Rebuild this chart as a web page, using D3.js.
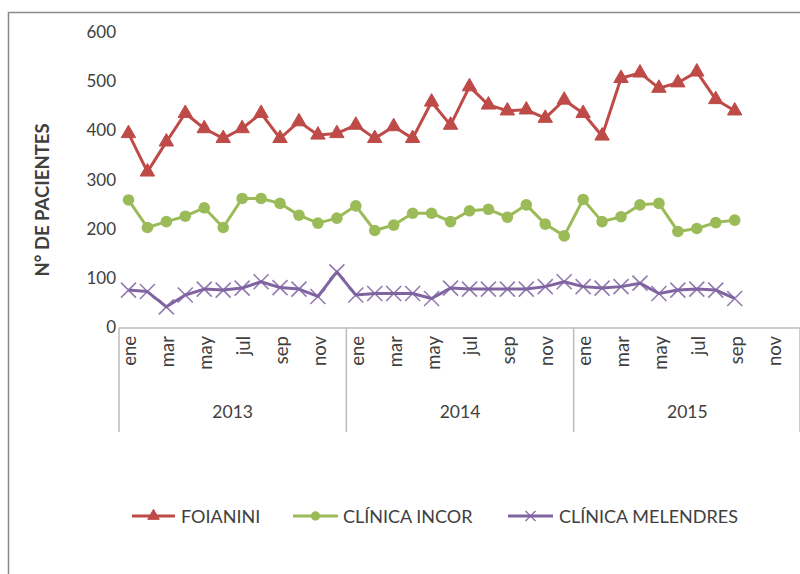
<!DOCTYPE html>
<html><head><meta charset="utf-8">
<script src="https://cdn.jsdelivr.net/npm/d3@7"></script>
<style>body{margin:0;background:#fff}svg{display:block}text{font-family:Lato,"Open Sans",sans-serif;fill:#404040}</style>
</head><body><svg id="c" width="800" height="574"></svg>
<script>
const years = ["2013","2014","2015"];
const months = ["ene","feb","mar","abr","may","jun","jul","ago","sep","oct","nov","dic"];
const monthLabelsShown = ["ene","mar","may","jul","sep","nov"];
const foianini = [394,316,377,435,404,384,404,435,384,418,391,394, 411,384,408,384,458,411,489,452,440,442,425,462, 435,389,506,517,486,497,519,463,440];
const incor = [259,203,215,226,243,203,262,262,252,228,212,222, 247,197,208,232,232,215,237,240,224,249,210,186, 260,215,225,249,252,195,201,213,218];
const melendres = [76,73,42,66,78,76,80,93,81,78,63,113, 66,69,69,69,59,80,78,78,78,78,83,93, 83,80,83,90,69,76,78,76,59];
const seriesNames = ["FOIANINI","CLÍNICA INCOR","CLÍNICA MELENDRES"];
const yTicks = [0,100,200,300,400,500,600];

const svg = d3.select("#c");
const cats = [];
years.forEach(y => months.forEach(m => cats.push(y + "-" + m)));

const x = d3.scaleBand().domain(cats).range([119, 801]).padding(0);
const y = d3.scaleLinear().domain([0, 600]).range([327.5, 32]);
const xc = (i) => x(cats[i]) + x.bandwidth() / 2;

// chart border
svg.append("rect").attr("x", 8.5).attr("y", 12.5).attr("width", 820).attr("height", 600)
  .attr("fill", "none").attr("stroke", "#8a8a8a").attr("stroke-width", 1.5);

// y axis labels
const ya = svg.append("g").attr("transform", "translate(116,0)")
  .call(d3.axisLeft(y).tickValues(yTicks).tickSize(0).tickPadding(0));
ya.select(".domain").remove();
ya.selectAll("text").attr("font-size", 17).attr("fill", "#404040").style("font-family", "Lato");

// x axis line
const xa = svg.append("g").attr("transform", "translate(0,327.5)")
  .call(d3.axisBottom(x).tickSize(0).tickFormat(""));
xa.select(".domain").attr("stroke", "#bdbdbd").attr("stroke-width", 1.5);

// month labels
cats.forEach((c, i) => {
  const m = c.split("-")[1];
  if (monthLabelsShown.includes(m)) {
    svg.append("text").attr("transform", `translate(${xc(i) + 1},336) rotate(-90)`)
      .attr("text-anchor", "end").attr("dominant-baseline", "central")
      .attr("font-size", 18.5).text(m);
  }
});
// year separators and labels
years.forEach((yr, k) => {
  const x0 = x(yr + "-ene");
  svg.append("line").attr("x1", x0).attr("x2", x0).attr("y1", 327.5).attr("y2", 432)
    .attr("stroke", "#bdbdbd").attr("stroke-width", 1.5);
  const x1 = x0 + x.bandwidth() * 12;
  svg.append("text").attr("x", (x0 + x1) / 2).attr("y", 418).attr("text-anchor", "middle")
    .attr("font-size", 17.5).text(yr);
});
svg.append("line").attr("x1", 800).attr("x2", 800).attr("y1", 327.5).attr("y2", 432)
  .attr("stroke", "#bdbdbd").attr("stroke-width", 1.5);

// y title
svg.append("text").attr("transform", "translate(42,200) rotate(-90)")
  .attr("text-anchor", "middle").attr("dominant-baseline", "central")
  .attr("font-size", 18.5).attr("font-weight", "bold").attr("fill", "#333").text("N° DE PACIENTES");

const colors = ["#BE4B48", "#9BBB59", "#8064A2"];
const data = [foianini, incor, melendres];
const line = d3.line().x((d, i) => xc(i)).y(d => y(d));

function marker(g, k, cx, cy, small) {
  const s = small ? 0.8 : 1;
  if (k === 0) {
    g.append("path").attr("d", d3.symbol(d3.symbolTriangle, 90 * s * s)())
      .attr("transform", `translate(${cx},${cy})`).attr("fill", colors[0]).attr("stroke", colors[0]);
  } else if (k === 1) {
    g.append("circle").attr("cx", cx).attr("cy", cy).attr("r", 5.8 * s).attr("fill", colors[1]);
  } else {
    const h = small ? 5 : 7.5;
    g.append("path").attr("d", `M${cx-h},${cy-h}L${cx+h},${cy+h}M${cx-h},${cy+h}L${cx+h},${cy-h}`)
      .attr("stroke", colors[2]).attr("stroke-width", 1.6).attr("fill", "none").attr("opacity", 0.85);
  }
}

data.forEach((vals, k) => {
  const g = svg.append("g");
  g.append("path").datum(vals).attr("d", line).attr("fill", "none")
    .attr("stroke", colors[k]).attr("stroke-width", 3).attr("stroke-linejoin", "round");
  vals.forEach((v, i) => marker(g, k, xc(i), y(v), false));
});

// legend
const legX = [[132, 175, 181], [293, 338, 343], [508, 553, 559]];
seriesNames.forEach((n, k) => {
  const g = svg.append("g");
  const [a, b, t] = legX[k];
  g.append("line").attr("x1", a).attr("x2", b).attr("y1", 516).attr("y2", 516)
    .attr("stroke", colors[k]).attr("stroke-width", 3);
  marker(g, k, (a + b) / 2, 516, true);
  g.append("text").attr("x", t).attr("y", 516).attr("dominant-baseline", "central")
    .attr("font-size", 18).text(n);
});
</script></body></html>
